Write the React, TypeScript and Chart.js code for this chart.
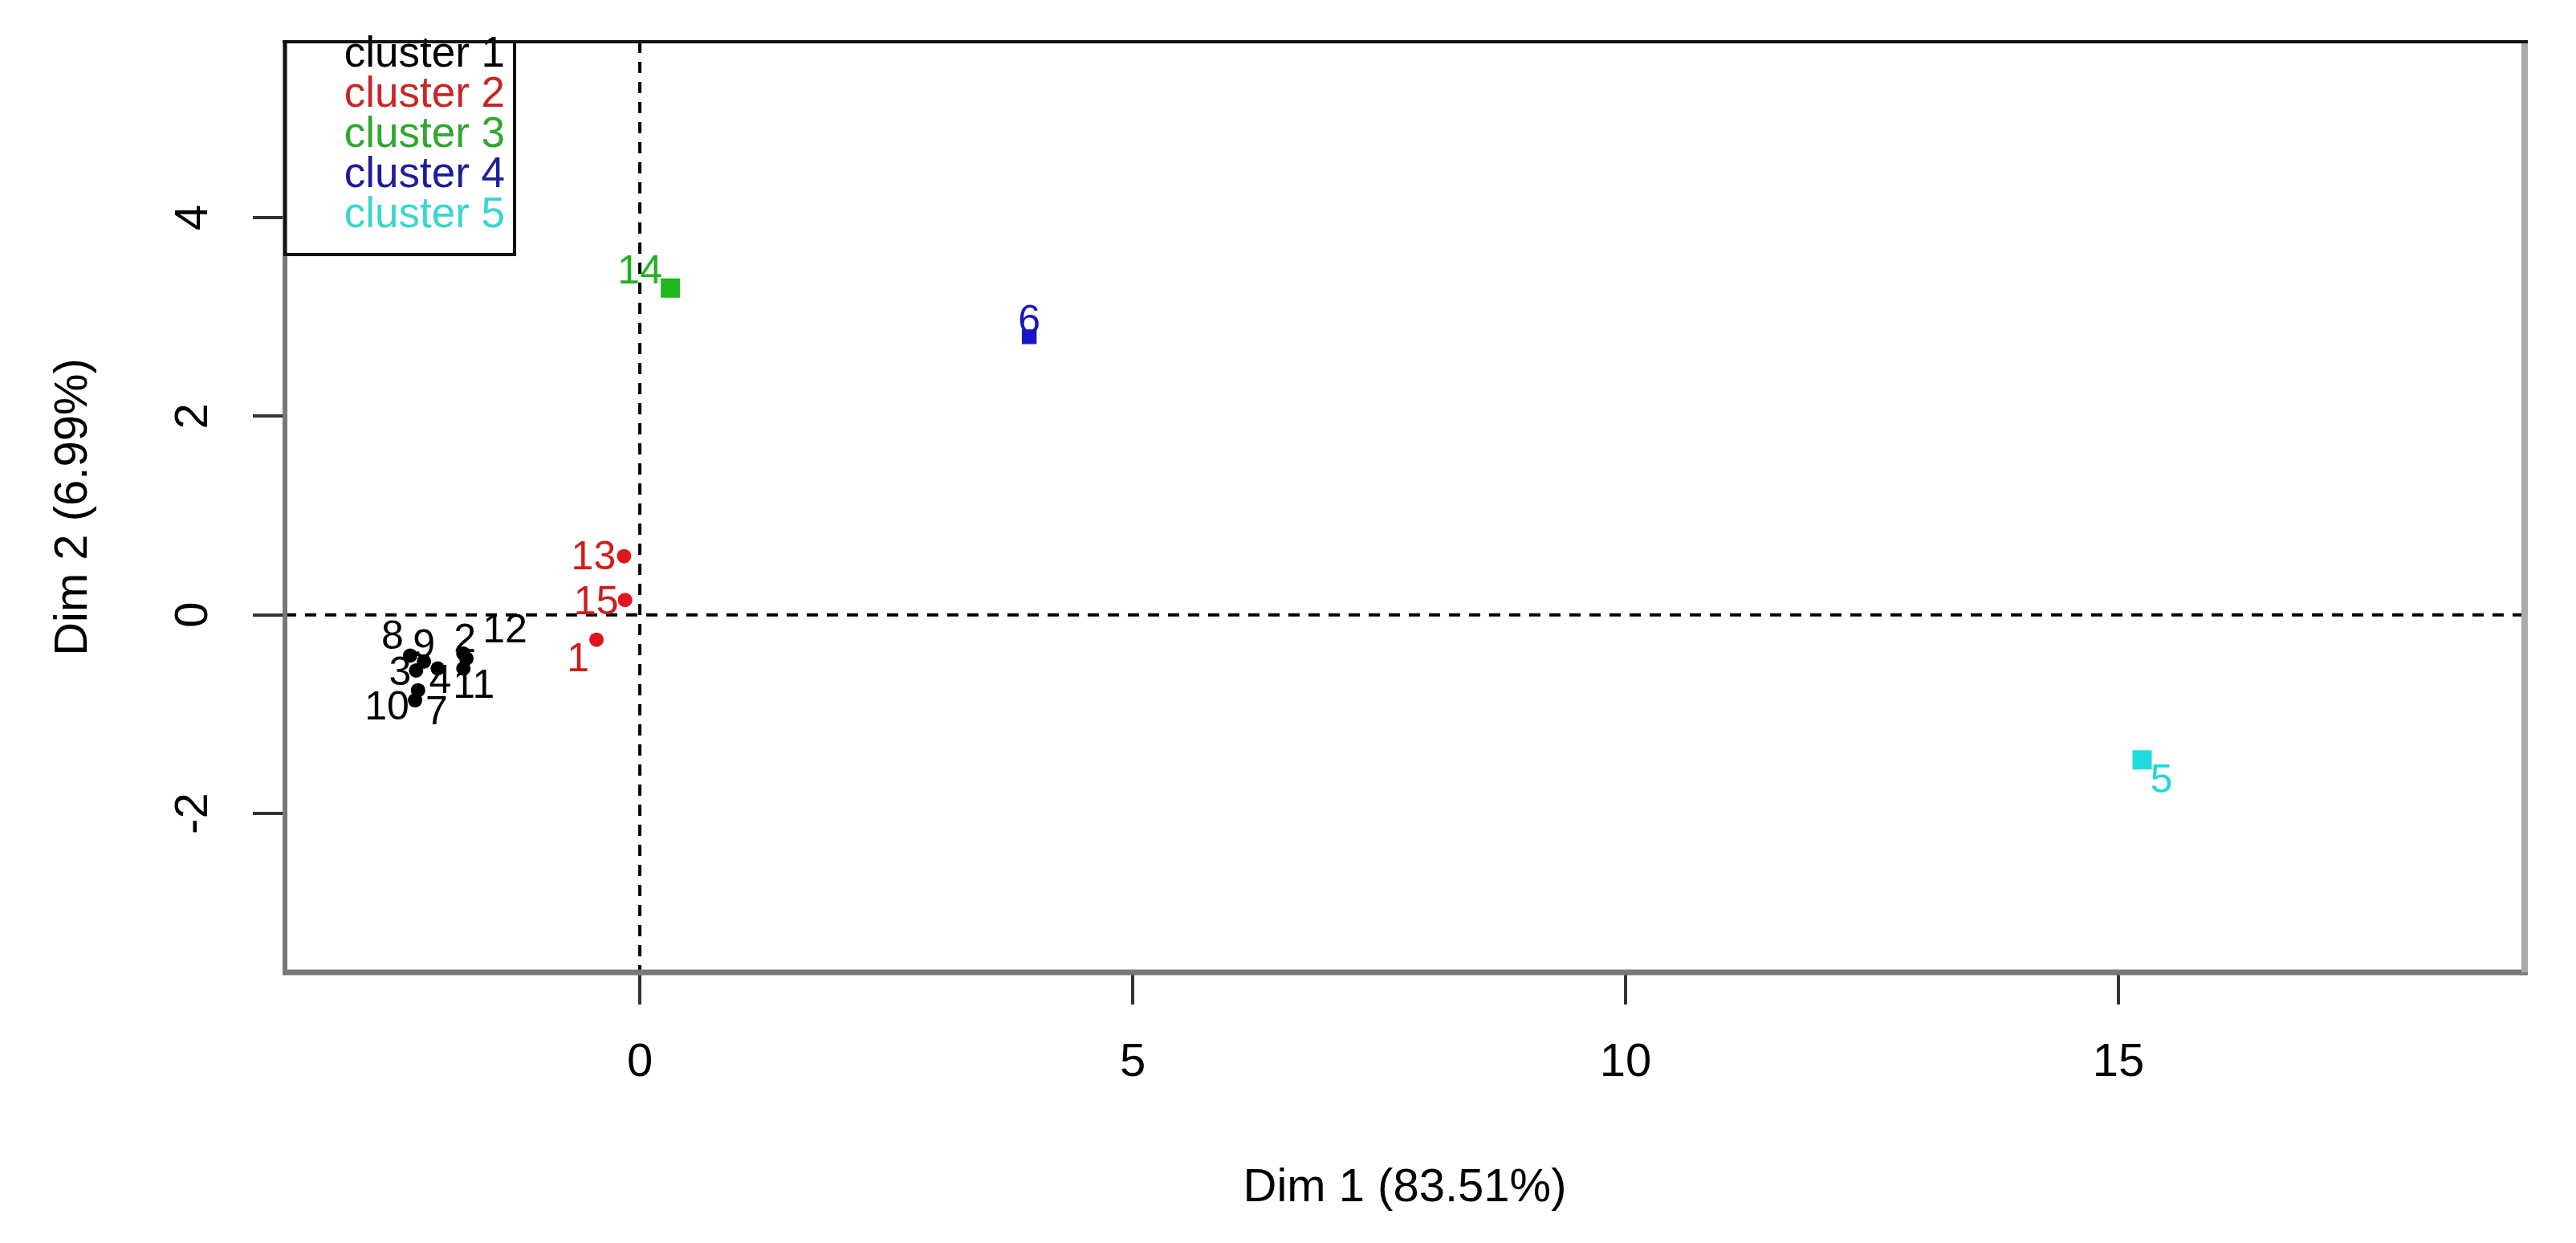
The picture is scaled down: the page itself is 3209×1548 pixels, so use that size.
import React, { useEffect, useRef } from 'react';
import { Chart, registerables } from 'chart.js';

Chart.register(...registerables);

// ---------- data ----------
const clusterNames = ['cluster 1', 'cluster 2', 'cluster 3', 'cluster 4', 'cluster 5'];

const c1Labels = ['2', '3', '4', '7', '8', '9', '10', '11', '12'];
const c1X = [-1.79, -2.27, -2.05, -2.25, -2.33, -2.19, -2.28, -1.79, -1.76];
const c1Y = [-0.39, -0.56, -0.54, -0.76, -0.41, -0.47, -0.86, -0.54, -0.44];

const c2Labels = ['1', '13', '15'];
const c2X = [-0.44, -0.16, -0.15];
const c2Y = [-0.25, 0.59, 0.15];

const c3Labels = ['14'];
const c3X = [0.31];
const c3Y = [3.29];

const c4Labels = ['6'];
const c4X = [3.95];
const c4Y = [2.8];

const c5Labels = ['5'];
const c5X = [15.24];
const c5Y = [-1.46];

const xTicks = [0, 5, 10, 15];
const yTicks = [-2, 0, 2, 4];
const xTitle = 'Dim 1 (83.51%)';
const yTitle = 'Dim 2 (6.99%)';
const xRange = [-3.6, 19.12];
const yRange = [-3.6, 5.77];

// ---------- styles / layout (kept apart from data) ----------
const FONT = "'Liberation Sans', Arial, Helvetica, sans-serif";
const pointColors = ['#000000', '#E0161C', '#1FB81F', '#1717C8', '#22DCDC'];
const labelColors = ['#000000', '#D01C1C', '#22B022', '#1717C0', '#22D8D8'];
const legendColors = ['#000000', '#C82626', '#2EA82E', '#1C1C9E', '#3AD6CE'];
const pointStyles = ['circle', 'circle', 'rect', 'rect', 'rect'];
const pointRadii = [9, 9, 17, 13, 17];

// label offsets in px relative to each point (label centre)
const c1Offsets = [[2, -16], [-20, 4], [3, 17], [23, 29], [-22, -22], [0, -19], [-35, 10], [13, 23], [48, -34]];
const c2Offsets = [[-23, 26], [-38, 2], [-36, 4]];
const c3Offsets = [[-38, -20]];
const c4Offsets = [[0, -18]];
const c5Offsets = [[24, 27]];

const clusterLabels = [c1Labels, c2Labels, c3Labels, c4Labels, c5Labels];
const clusterXs = [c1X, c2X, c3X, c4X, c5X];
const clusterYs = [c1Y, c2Y, c3Y, c4Y, c5Y];
const clusterOffsets = [c1Offsets, c2Offsets, c3Offsets, c4Offsets, c5Offsets];

const zeroLinesPlugin = {
  id: 'zeroLines',
  beforeDatasetsDraw(chart: any) {
    const { ctx, chartArea, scales } = chart;
    const x0 = scales.x.getPixelForValue(0);
    const y0 = scales.y.getPixelForValue(0);
    ctx.save();
    ctx.strokeStyle = '#000';
    ctx.lineWidth = 4;
    ctx.setLineDash([14, 11]);
    ctx.beginPath();
    ctx.moveTo(x0, chartArea.top);
    ctx.lineTo(x0, chartArea.bottom);
    ctx.moveTo(chartArea.left, y0);
    ctx.lineTo(chartArea.right, y0);
    ctx.stroke();
    ctx.restore();
  },
};

const pointLabelsPlugin = {
  id: 'pointLabels',
  afterDatasetsDraw(chart: any) {
    const { ctx } = chart;
    ctx.save();
    ctx.font = `50px ${FONT}`;
    ctx.textAlign = 'center';
    ctx.textBaseline = 'middle';
    chart.data.datasets.forEach((ds: any, i: number) => {
      const meta = chart.getDatasetMeta(i);
      ctx.fillStyle = ds.labelColor;
      meta.data.forEach((el: any, j: number) => {
        const off = ds.labelOffsets[j] || [0, 0];
        ctx.fillText(ds.pointLabels[j], el.x + off[0], el.y + off[1]);
      });
    });
    ctx.restore();
  },
};

const frameLegendPlugin = {
  id: 'frameLegend',
  afterDraw(chart: any) {
    const { ctx, chartArea } = chart;
    const { left, right, top, bottom } = chartArea;
    const lw = 286;
    const lh = 265;
    ctx.save();
    // legend background + text
    ctx.fillStyle = '#ffffff';
    ctx.fillRect(left, top, lw, lh);
    ctx.font = `53px ${FONT}`;
    ctx.textAlign = 'right';
    ctx.textBaseline = 'alphabetic';
    chart.data.datasets.forEach((ds: any, i: number) => {
      ctx.fillStyle = legendColors[i];
      ctx.fillText(ds.label, left + 274, top + 31 + 50 * i);
    });
    // frame
    ctx.setLineDash([]);
    ctx.lineCap = 'butt';
    ctx.strokeStyle = '#777777';
    ctx.lineWidth = 6;
    ctx.beginPath();
    ctx.moveTo(left, top);
    ctx.lineTo(left, bottom);
    ctx.stroke();
    ctx.lineWidth = 7;
    ctx.beginPath();
    ctx.moveTo(left - 3, bottom);
    ctx.lineTo(right + 4, bottom);
    ctx.stroke();
    ctx.strokeStyle = '#aaaaaa';
    ctx.lineWidth = 8;
    ctx.beginPath();
    ctx.moveTo(right, top);
    ctx.lineTo(right, bottom);
    ctx.stroke();
    ctx.strokeStyle = '#111111';
    ctx.lineWidth = 4;
    ctx.beginPath();
    ctx.moveTo(left - 3, top);
    ctx.lineTo(right + 4, top);
    ctx.stroke();
    // legend border
    ctx.strokeStyle = '#111111';
    ctx.lineWidth = 4;
    ctx.strokeRect(left, top, lw, lh);
    ctx.restore();
  },
};

export default function App() {
  const canvasRef = useRef<HTMLCanvasElement | null>(null);

  useEffect(() => {
    const canvas = canvasRef.current;
    if (!canvas) return;
    const datasets = clusterNames.map((name, i) => ({
      label: name,
      data: clusterXs[i].map((x, j) => ({ x, y: clusterYs[i][j] })),
      pointLabels: clusterLabels[i],
      labelOffsets: clusterOffsets[i],
      labelColor: labelColors[i],
      pointStyle: pointStyles[i],
      pointRadius: pointRadii[i],
      pointHoverRadius: pointRadii[i],
      backgroundColor: pointColors[i],
      borderColor: pointColors[i],
      borderWidth: 0,
    }));

    const tickFont = { family: FONT, size: 58 };
    const chart = new Chart(canvas, {
      type: 'scatter',
      data: { datasets } as any,
      options: {
        animation: false,
        responsive: true,
        maintainAspectRatio: false,
        layout: { padding: { left: 0, top: 52, right: 64, bottom: 0 } },
        plugins: { legend: { display: false }, tooltip: { enabled: false } },
        scales: {
          x: {
            type: 'linear',
            min: xRange[0],
            max: xRange[1],
            afterBuildTicks: (s: any) => {
              s.ticks = xTicks.map((v) => ({ value: v }));
            },
            afterFit: (s: any) => {
              s.height = 337;
              s.paddingLeft = 0;
              s.paddingRight = 0;
              s.paddingTop = 0;
              s.paddingBottom = 0;
            },
            ticks: {
              autoSkip: false,
              font: tickFont,
              color: '#000',
              padding: 38,
              maxRotation: 0,
              minRotation: 0,
              callback: (v: any) => String(v),
            },
            grid: { drawOnChartArea: false, drawTicks: true, tickLength: 40, color: '#333', lineWidth: 4 },
            border: { display: false },
            title: { display: true, text: xTitle, font: tickFont, color: '#000', padding: { top: 0, bottom: 33 } },
          },
          y: {
            type: 'linear',
            min: yRange[0],
            max: yRange[1],
            afterBuildTicks: (s: any) => {
              s.ticks = yTicks.map((v) => ({ value: v }));
            },
            afterFit: (s: any) => {
              s.width = 355;
              s.paddingLeft = 0;
              s.paddingRight = 0;
              s.paddingTop = 0;
              s.paddingBottom = 0;
            },
            ticks: {
              autoSkip: false,
              font: tickFont,
              color: '#000',
              padding: 47,
              minRotation: 90,
              maxRotation: 90,
              crossAlign: 'center',
              callback: (v: any) => String(v),
            },
            grid: { drawOnChartArea: false, drawTicks: true, tickLength: 40, color: '#333', lineWidth: 4 },
            border: { display: false },
            title: { display: true, text: yTitle, font: tickFont, color: '#000', padding: { top: 57, bottom: 0 } },
          },
        },
      } as any,
      plugins: [zeroLinesPlugin, pointLabelsPlugin, frameLegendPlugin],
    });
    return () => chart.destroy();
  }, []);

  return (
    <div style={{ position: 'fixed', left: 0, top: 0, width: '3209px', height: '1548px', background: '#fff' }}>
      <canvas ref={canvasRef} />
    </div>
  );
}
